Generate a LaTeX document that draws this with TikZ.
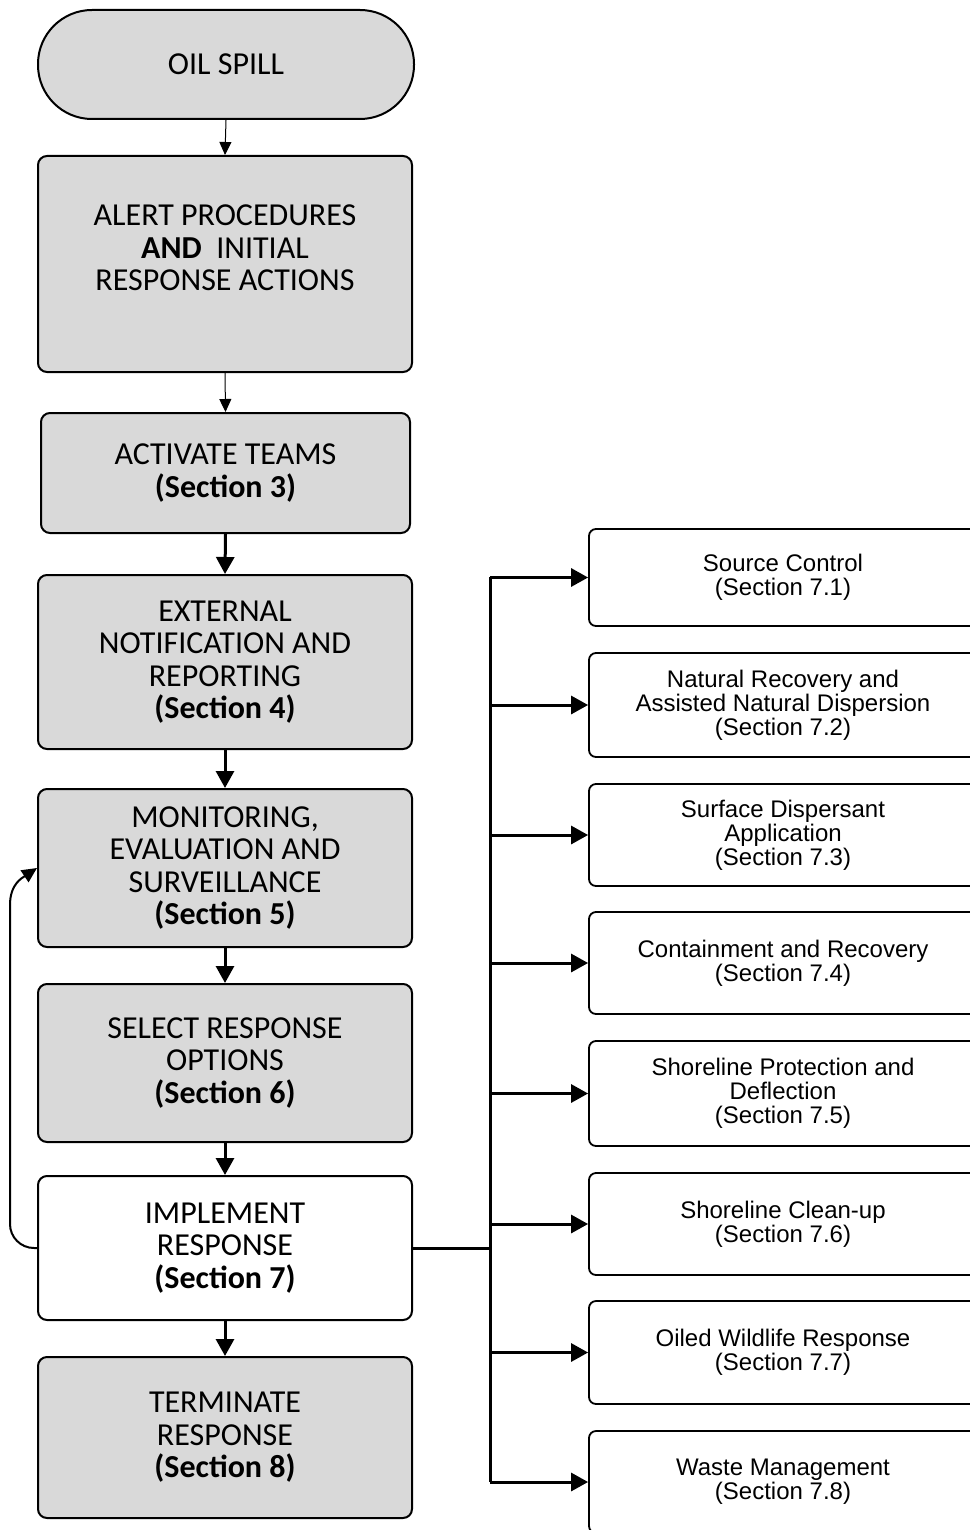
\documentclass[tikz,border=0pt]{standalone}
\usepackage{fontspec}
\setmainfont{Carlito}
\newfontfamily\arialf{Liberation Sans}
\usetikzlibrary{arrows.meta}
\definecolor{boxgray}{HTML}{D9D9D9}
\tikzset{
  leftbox/.style={draw=black, line width=2pt, rounded corners=9pt, fill=boxgray,
    minimum width=374pt, align=center, font=\fontsize{32}{32.5}\selectfont, inner sep=0pt},
  whitebox/.style={leftbox, fill=white},
  rightbox/.style={draw=black, line width=1.8pt, rounded corners=7pt, fill=white,
    minimum width=388pt, align=center, font=\arialf\fontsize{24}{24}\selectfont, inner sep=0pt},
  thinarr/.style={line width=1pt, -{Triangle[length=13pt,width=12pt]}},
  thickarr/.style={line width=3pt, -{Triangle[length=17pt,width=18pt]}},
  busline/.style={line width=3pt},
  feedarr/.style={line width=2pt, -{Triangle[length=15pt,width=14pt]}},
}
\begin{document}
\begin{tikzpicture}[x=1pt,y=-1pt]
\useasboundingbox (0,0) rectangle (969,1530);

% left column
\node[leftbox, rounded corners=54pt, minimum width=376pt, minimum height=109pt] (spill) at (226,64.5) {OIL SPILL};
\node[leftbox, minimum height=216pt] (alert) at (225,264) {ALERT PROCEDURES\\\textbf{AND}\ \ INITIAL\\RESPONSE ACTIONS\\\mbox{}};
\node[leftbox, minimum width=369pt, minimum height=120pt] (teams) at (225.5,473) {ACTIVATE TEAMS\\\textbf{(Section 3)}};
\node[leftbox, minimum height=174pt] (notify) at (225,662) {EXTERNAL\\NOTIFICATION AND\\REPORTING\\\textbf{(Section 4)}};
\node[leftbox, minimum height=158pt] (monitor) at (225,868) {MONITORING,\\EVALUATION AND\\SURVEILLANCE\\\textbf{(Section 5)}};
\node[leftbox, minimum height=158pt] (select) at (225,1063) {SELECT RESPONSE\\OPTIONS\\\textbf{(Section 6)}};
\node[whitebox, minimum height=144pt] (impl) at (225,1248) {IMPLEMENT\\RESPONSE\\\textbf{(Section 7)}};
\node[leftbox, minimum height=161pt] (term) at (225,1437.5) {TERMINATE\\RESPONSE\\\textbf{(Section 8)}};

\draw[thinarr] (spill.south) -- (alert.north);
\draw[thinarr] (alert.south) -- (teams.north);
\draw[thickarr] (teams.south) -- (notify.north);
\draw[thickarr] (notify.south) -- (monitor.north);
\draw[thickarr] (monitor.south) -- (select.north);
\draw[thickarr] (select.south) -- (impl.north);
\draw[thickarr] (impl.south) -- (term.north);

% feedback loop
\coordinate (fbA) at (10,1248);
\coordinate (fbB) at (10,905);
\draw[feedarr] (impl.west) [rounded corners=24pt] -- (fbA) [sharp corners] -- (fbB)
  .. controls (10,884) and (22,878) .. (monitor.west);

% right column
\node[rightbox, minimum height=97pt] (r1) at (783,577.5) {Source Control\\(Section 7.1)};
\node[rightbox, minimum height=104pt] (r2) at (783,705) {Natural Recovery and\\Assisted Natural Dispersion\\(Section 7.2)};
\node[rightbox, minimum height=102pt] (r3) at (783,835) {Surface Dispersant\\Application\\(Section 7.3)};
\node[rightbox, minimum height=102pt] (r4) at (783,963) {Containment and Recovery\\(Section 7.4)};
\node[rightbox, minimum height=105pt] (r5) at (783,1093.5) {Shoreline Protection and\\Deflection\\(Section 7.5)};
\node[rightbox, minimum height=102pt] (r6) at (783,1224) {Shoreline Clean-up\\(Section 7.6)};
\node[rightbox, minimum height=103pt] (r7) at (783,1352.5) {Oiled Wildlife Response\\(Section 7.7)};
\node[rightbox, minimum height=102pt] (r8) at (783,1482) {Waste Management\\(Section 7.8)};

% bus
\coordinate (bustop) at (490,577);
\coordinate (busbot) at (490,1482);
\draw[busline] (bustop) -- (busbot);
\draw[busline] (impl.east) -- (impl.east -| bustop);
\foreach \r in {r1,r2,r3,r4,r5,r6,r7,r8}
  \draw[thickarr] (\r.west -| bustop) -- (\r.west);
\end{tikzpicture}
\end{document}
